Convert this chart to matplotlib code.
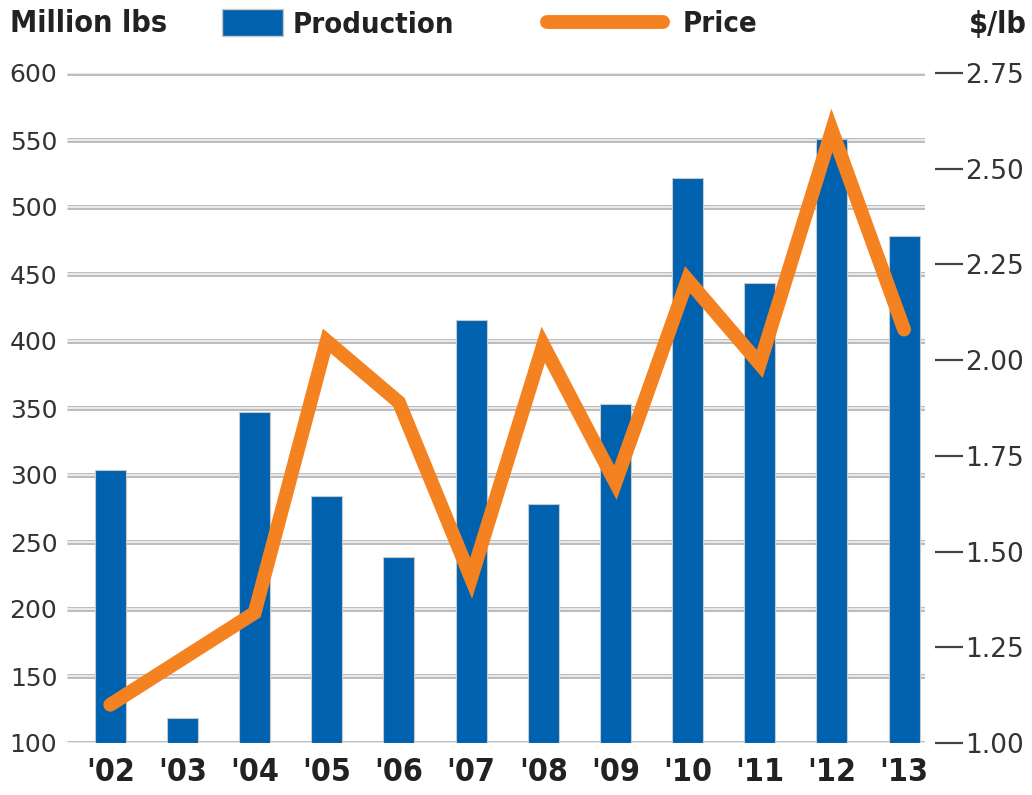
import matplotlib
matplotlib.use("Agg")
import matplotlib.pyplot as plt
from matplotlib.patches import Patch
from matplotlib.lines import Line2D

years = ["'02", "'03", "'04", "'05", "'06", "'07", "'08", "'09", "'10", "'11", "'12", "'13"]
production = [304, 119, 347, 284, 239, 416, 278, 353, 522, 443, 551, 478]
price = [1.10, 1.22, 1.34, 2.05, 1.89, 1.43, 2.04, 1.68, 2.21, 1.99, 2.60, 2.08]
left_ticks = [100, 150, 200, 250, 300, 350, 400, 450, 500, 550, 600]
right_ticks = [1.00, 1.25, 1.50, 1.75, 2.00, 2.25, 2.50, 2.75]

BLUE = "#0061AE"
ORANGE = "#F58220"
TXT = "#333333"
HEAD = "#222222"
FAM = "DejaVu Sans"

fig = plt.figure(figsize=(10.32, 7.95), dpi=100)
ax = fig.add_axes([67 / 1032, 1 - 743 / 795, (925 - 67) / 1032, (743 - 73) / 795])
x = list(range(len(years)))

ax.set_xlim(-0.6, 11.29)
ax.set_ylim(100, 600)
for v in left_ticks:
    ax.axhline(v, color="#bdbdbd", lw=3.6, zorder=1, solid_capstyle="butt")
    ax.axhline(v, color="#f2f2f2", lw=1.2, zorder=1.1, solid_capstyle="butt")

ax.bar(x, [p - 100 for p in production], bottom=100, width=0.43, color=BLUE,
       edgecolor="#c8c8c8", linewidth=0.8, zorder=2)

for s in ax.spines.values():
    s.set_visible(False)
ax.set_yticks(left_ticks)
ax.set_yticklabels([str(v) for v in left_ticks], fontsize=18, color=TXT, family=FAM)
ax.tick_params(axis="y", length=0, pad=7)
ax.set_xticks(x)
ax.set_xticklabels(years, fontsize=23, fontweight="bold", color=HEAD, family=FAM,
                   fontstretch="condensed")
ax.tick_params(axis="x", length=0, pad=10)

ax2 = ax.twinx()
ax2.set_ylim(1.0, 2.75)
for s in ax2.spines.values():
    s.set_visible(False)
ax2.spines["right"].set_position(("outward", 7))
ax2.set_yticks(right_ticks)
ax2.set_yticklabels(["%.2f" % v for v in right_ticks], fontsize=19, color=TXT, family=FAM)
ax2.tick_params(axis="y", length=20, width=1.6, color="#444444", pad=2, direction="out")
ax2.plot(x, price, color=ORANGE, lw=10, solid_joinstyle="miter", solid_capstyle="round", zorder=5)

fig.text(10 / 1032, 1 - 24 / 795, "Million lbs", fontsize=22, fontweight="bold",
         color=HEAD, family=FAM, fontstretch="condensed", va="center", ha="left")
fig.text(1027 / 1032, 1 - 24 / 795, "$/lb", fontsize=22, fontweight="bold",
         color=HEAD, family=FAM, fontstretch="condensed", va="center", ha="right")

prop = {"family": FAM, "weight": "bold", "size": 21, "stretch": "condensed"}
leg1 = fig.legend(handles=[Patch(facecolor=BLUE, edgecolor="#c8c8c8")], labels=["Production"],
                  loc="center left", bbox_to_anchor=(219 / 1032, 1 - 24 / 795), frameon=False,
                  handlelength=2.09, handleheight=1.05, handletextpad=0.34,
                  prop=prop, borderpad=0.1, borderaxespad=0)
leg2 = fig.legend(handles=[Line2D([0], [0], color=ORANGE, lw=10, solid_capstyle="round")],
                  labels=["Price"], loc="center left", bbox_to_anchor=(544 / 1032, 1 - 24 / 795),
                  frameon=False, handlelength=3.97, handletextpad=0.68,
                  prop=prop, borderpad=0.1, borderaxespad=0)
for lg in (leg1, leg2):
    for t in lg.get_texts():
        t.set_color(HEAD)

fig.savefig("out.png", dpi=100)
